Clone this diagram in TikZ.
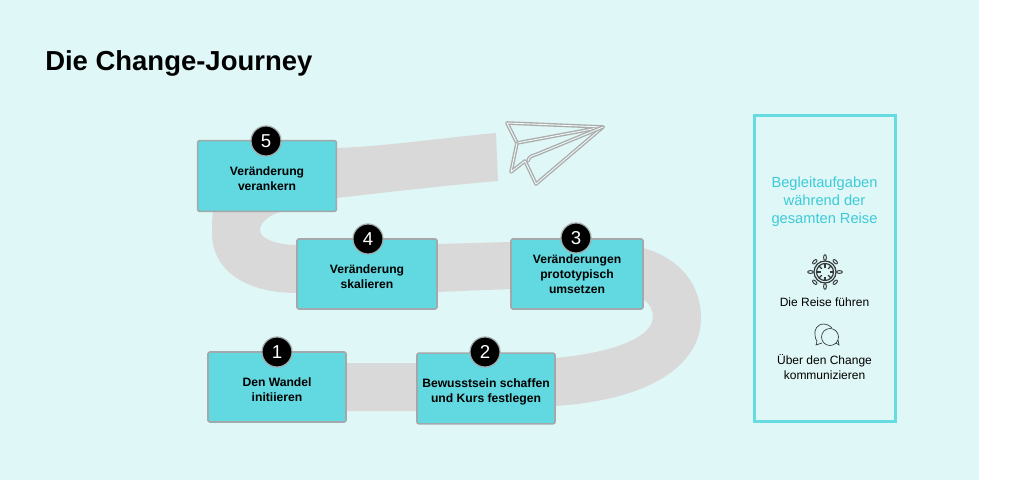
\documentclass[tikz,border=0pt]{standalone}
\usepackage{fontspec}
\setmainfont{Liberation Sans}
\definecolor{pagebg}{HTML}{DFF7F6}
\definecolor{road}{HTML}{D9D9D9}
\definecolor{boxfill}{HTML}{62D8E0}
\definecolor{boxedge}{HTML}{A3A9AA}
\definecolor{frameline}{HTML}{66DCE2}
\definecolor{headtext}{HTML}{3CCBD8}
\definecolor{planeline}{HTML}{ABABAB}
\definecolor{icon}{HTML}{33393A}
\newcommand{\stepdrop}{\rule{0pt}{11pt}}
\tikzset{
  stepbox/.style={draw=boxedge, line width=1.2pt, fill=boxfill, rounded corners=1.5pt, minimum width=103.5pt, minimum height=52.5pt, align=center, font=\fontsize{9.1}{11.2}\selectfont\bfseries},
  stepnum/.style={circle, draw=boxedge, line width=0.9pt, fill=black, text=white, minimum size=22.5pt, inner sep=0pt, font=\fontsize{14}{14}\selectfont},
  sidetext/.style={align=center, font=\fontsize{9}{11}\selectfont},
  planeedge/.style={draw=planeline, line width=1pt, double=pagebg!60!white, double distance=0.7pt, line join=round, line cap=round},
  iconline/.style={draw=icon, line width=0.5pt}
}
\begin{document}
\begin{tikzpicture}[x=0.75pt,y=-0.75pt]
\useasboundingbox (0,0) rectangle (1024,481);
\fill [pagebg] (0,0) rectangle (979,480);
% the road
\fill [road] (336,148) .. controls (390,146) and (440,138) .. (496,133) -- (498,181) .. controls (440,186) and (390,192) .. (336,198)
  -- (280,212) .. controls (268,216) and (260,223) .. (260,230) .. controls (260,240) and (280,245) .. (297,245)
  -- (437,244) -- (511,242) -- (643,248)
  .. controls (680,258) and (701,285) .. (701,318) .. controls (701,365) and (650,400) .. (555,406)
  -- (417,411) -- (347,411) -- (347,363) -- (417,363) -- (555,358)
  .. controls (620,352) and (653,335) .. (653,317) .. controls (653,310) and (650,304) .. (643,299)
  -- (511,289) -- (437,292) -- (297,293) .. controls (245,293) and (212,270) .. (212,233)
  .. controls (212,225) and (212,218) .. (213,210) -- (336,148);
% steps
\node [stepbox, minimum width=104pt, minimum height=53pt] (stepfive) at (267,176) {\stepdrop Veränderung\\verankern};
\node [stepbox, minimum width=105pt] (stepfour) at (367,274) {\stepdrop Veränderung\\skalieren};
\node [stepbox, minimum width=99pt] (stepthree) at (577,274) {Veränderungen\\prototypisch\\umsetzen};
\node [stepbox] (stepone) at (277,387) {\stepdrop Den Wandel\\initiieren};
\node [stepbox, minimum height=53pt] (steptwo) at (486,388.5) {\stepdrop Bewusstsein schaffen\\und Kurs festlegen};
\node [stepnum] (numfive) at (266,141) {5};
\node [stepnum] (numfour) at (368,239) {4};
\node [stepnum] (numthree) at (576,238) {3};
\node [stepnum] (numone) at (277,352) {1};
\node [stepnum] (numtwo) at (485,352) {2};
% paper plane
\draw [planeedge] (507,123) -- (603,127) -- (517,143) -- cycle;
\draw [planeedge] (517,143) -- (511,172) -- (525,161) -- (536,184) -- (603,127);
\draw [planeedge] (528,161) .. controls (529,157) and (531,156) .. (535,155) -- (603,127);
% title
\node [anchor=west, font=\fontsize{20.6}{24}\selectfont\bfseries, inner sep=0pt] (title) at (45,63.5) {Die Change-Journey};
% side panel
\draw [frameline, line width=2.6pt] (754.5,115.5) rectangle (895.5,421.5);
\node [sidetext, text=headtext, font=\fontsize{11}{13.5}\selectfont] (sidehead) at (824.5,201.5) {Begleitaufgaben\\während der\\gesamten Reise};
\node [sidetext] (lead) at (824.5,302) {Die Reise führen};
\node [sidetext] (talk) at (824.5,367) {Über den Change\\kommunizieren};
% wheel icon
\draw [iconline, line width=0.9pt] (825,272) circle [radius=8.5];
\draw [iconline, line width=0.9pt] (825,272) circle [radius=11];
\foreach \a in {0,45,...,315} {
  \draw [iconline, line width=1pt] (825,272) ++(\a:4.5) -- ++(\a:4);
  \draw [iconline, line width=0.7pt, fill=pagebg] (825,272) ++(\a:14.5) circle [x radius=2.8, y radius=1.4, rotate=\a];
}
% chat icon
\draw [iconline] (832,328) .. controls (829,325) and (826,324) .. (824,324) .. controls (817,324) and (814,330) .. (815,335) .. controls (815,338) and (816,340) .. (817,341) -- (816,345) -- (822,343);
\draw [iconline] (830,337) circle [radius=8.5];
\draw [iconline] (836,343) -- (839,345) -- (838,340);
\end{tikzpicture}
\end{document}
